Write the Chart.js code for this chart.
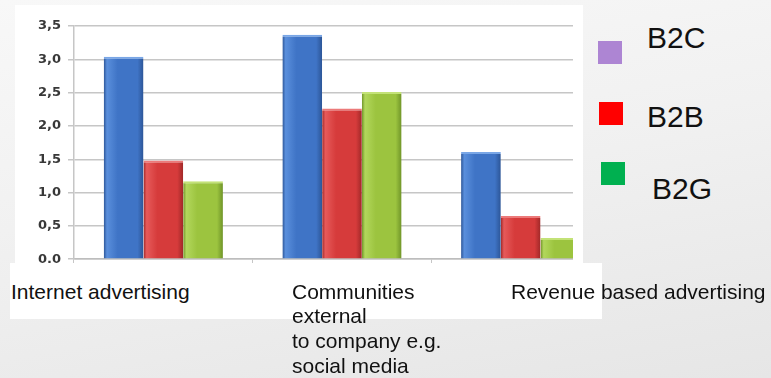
<!DOCTYPE html>
<html>
<head>
<meta charset="utf-8">
<script src="https://cdn.jsdelivr.net/npm/chart.js@4"></script>
<style>
  html, body {
    margin: 0;
    width: 771px;
    height: 378px;
    overflow: hidden;
  }
  body {
    position: relative;
    background: linear-gradient(170deg, #f8f8f8 0%, #f1f1f1 45%, #e6e6e6 100%);
    font-family: "Liberation Sans", Arial, sans-serif;
  }
  #chartBox {
    position: absolute;
    left: 15px;
    top: 5px;
    width: 568px;
    height: 258px;
    background: #fff;
  }
  #clip {
    position: absolute;
    left: 0;
    top: 0;
    width: 573px;
    height: 274px;
    overflow: hidden;
  }
  #clip canvas {
    position: absolute;
    left: 0;
    top: 0;
  }
  #labelBox {
    position: absolute;
    left: 10px;
    top: 263px;
    width: 592px;
    height: 56px;
    background: #fff;
  }
  .cat {
    position: absolute;
    top: 279.5px;
    font-size: 21px;
    line-height: 24.7px;
    color: #111;
    white-space: nowrap;
  }
  .leg {
    position: absolute;
    font-size: 30px;
    line-height: 30px;
    color: #111;
  }
  .sw {
    position: absolute;
    width: 24px;
    height: 23px;
  }
</style>
</head>
<body>
<div id="chartBox"></div>
<div id="clip">
  <canvas id="myChart" width="610" height="274" style="width:610px;height:274px"></canvas>
</div>
<div id="labelBox"></div>
<div id="labels"></div>
<div id="legend"></div>

<script>
const categories = [
  ["Internet advertising"],
  ["Communities", "external", "to company e.g.", "social media"],
  ["Revenue based advertising"],
];
const seriesNames = ["B2C", "B2B", "B2G"];
const b2c = [3.04, 3.37, 1.61];
const b2b = [1.48, 2.26, 0.65];
const b2g = [1.17, 2.51, 0.32];
const yTicks = [0, 0.5, 1.0, 1.5, 2.0, 2.5, 3.0, 3.5];
const legendColors = ["#ad85d3", "#ff0000", "#00b050"];

const catPct = 0.667;

// horizontal shading so the bars look like the rounded office-style columns
function barFill(base, light, dark) {
  return (c) => {
    const chart = c.chart;
    const x = chart.scales.x;
    if (!x || c.dataIndex === undefined || !x.width) return base;
    const cw = x.width / categories.length;
    const bw = (cw * catPct) / 3;
    const cx = x.getPixelForValue(c.dataIndex) + (c.datasetIndex - 1) * bw;
    const g = chart.ctx.createLinearGradient(cx - bw / 2, 0, cx + bw / 2, 0);
    g.addColorStop(0, dark);
    g.addColorStop(0.08, light);
    g.addColorStop(0.35, base);
    g.addColorStop(0.85, base);
    g.addColorStop(1, dark);
    return g;
  };
}

const ctx = document.getElementById("myChart").getContext("2d");
new Chart(ctx, {
  type: "bar",
  data: {
    labels: categories.map((c) => c.join(" ")),
    datasets: [
      {
        label: seriesNames[0],
        data: b2c,
        backgroundColor: barFill("#3f74c6", "#5a8fdc", "#2c5597"),
        borderColor: "#79a6e6",
        borderWidth: { top: 2, left: 0, right: 0, bottom: 0 },
        borderSkipped: false,
      },
      {
        label: seriesNames[1],
        data: b2b,
        backgroundColor: barFill("#d63b3b", "#e65a5a", "#a02828"),
        borderColor: "#ec7a7a",
        borderWidth: { top: 2, left: 0, right: 0, bottom: 0 },
        borderSkipped: false,
      },
      {
        label: seriesNames[2],
        data: b2g,
        backgroundColor: barFill("#9cc43f", "#b2d75c", "#6f9428"),
        borderColor: "#c3e277",
        borderWidth: { top: 2, left: 0, right: 0, bottom: 0 },
        borderSkipped: false,
      },
    ],
  },
  options: {
    responsive: false,
    animation: false,
    events: [],
    layout: { padding: { top: 26, left: 0, right: 0, bottom: 0 } },
    datasets: {
      bar: { categoryPercentage: catPct, barPercentage: 1.0 },
    },
    plugins: {
      legend: { display: false },
      tooltip: { enabled: false },
    },
    scales: {
      x: {
        ticks: { display: false },
        grid: {
          drawOnChartArea: false,
          drawTicks: true,
          tickLength: 4,
          color: "#c6c6c6",
        },
        border: { color: "#bdbdbd", width: 1.5 },
        afterFit: (s) => {
          s.height = 11;
        },
      },
      y: {
        min: 0,
        max: 3.5,
        afterBuildTicks: (s) => {
          s.ticks = yTicks.map((v) => ({ value: v }));
        },
        ticks: {
          padding: 7,
          color: "#383838",
          font: { family: "DejaVu Sans", size: 13, weight: "bold" },
          callback: (v) => Number(v).toFixed(1).replace(".", ","),
        },
        grid: {
          color: "#c6c6c6",
          lineWidth: 1.5,
          tickLength: 6,
        },
        border: { color: "#c6c6c6", width: 1.5 },
        afterFit: (s) => {
          s.width = 74;
        },
      },
    },
  },
});

// category texts under the chart
const labelLefts = [11, 292, 511];
const labelsDiv = document.getElementById("labels");
categories.forEach((lines, i) => {
  const d = document.createElement("div");
  d.className = "cat";
  d.style.left = labelLefts[i] + "px";
  d.innerHTML = lines.join("<br>");
  labelsDiv.appendChild(d);
});

// legend on the right
const legendTextPos = [
  [647, 22.6],
  [647, 101.6],
  [652, 173.6],
];
const legendBoxPos = [
  [598, 41],
  [599, 102],
  [601, 162],
];
const legendDiv = document.getElementById("legend");
seriesNames.forEach((name, i) => {
  const sw = document.createElement("div");
  sw.className = "sw";
  sw.style.left = legendBoxPos[i][0] + "px";
  sw.style.top = legendBoxPos[i][1] + "px";
  sw.style.background = legendColors[i];
  legendDiv.appendChild(sw);
  const t = document.createElement("div");
  t.className = "leg";
  t.style.left = legendTextPos[i][0] + "px";
  t.style.top = legendTextPos[i][1] + "px";
  t.textContent = name;
  legendDiv.appendChild(t);
});
</script>
</body>
</html>
